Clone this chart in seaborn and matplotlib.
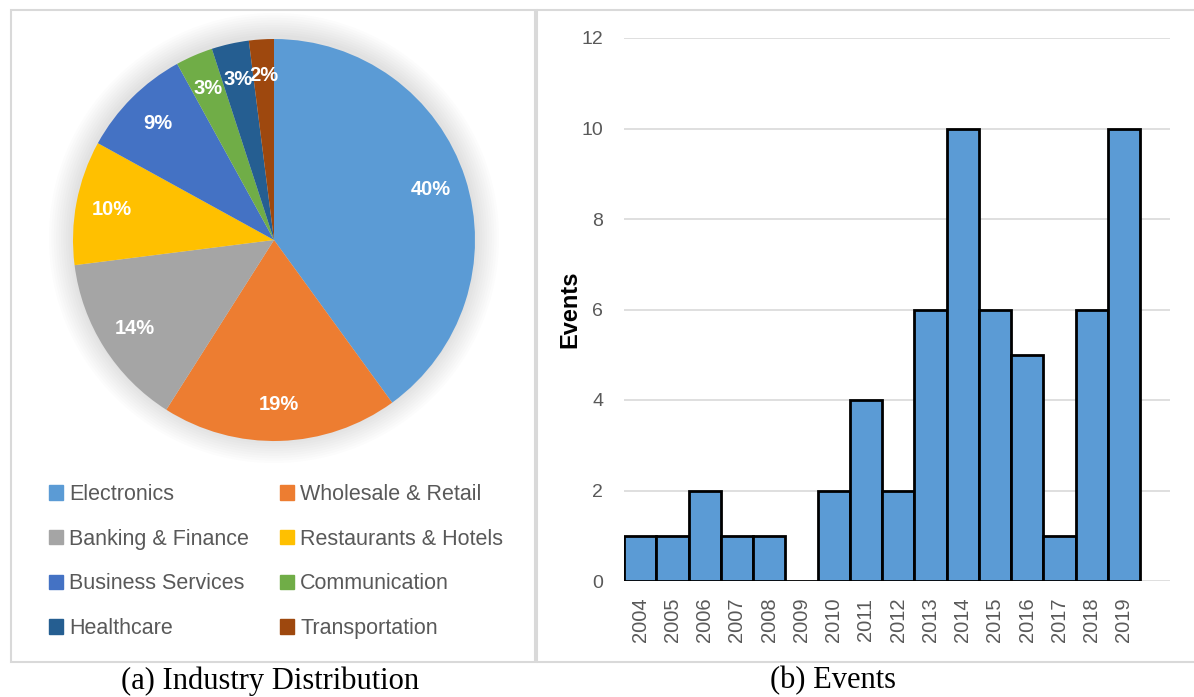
import matplotlib
matplotlib.use("Agg")
import matplotlib.pyplot as plt
import matplotlib.patches as mpatches
import seaborn as sns
import pandas as pd

# ---------------------------------------------------------------------------
# Data
# ---------------------------------------------------------------------------
industries = ["Electronics", "Wholesale & Retail", "Banking & Finance",
              "Restaurants & Hotels", "Business Services", "Communication",
              "Healthcare", "Transportation"]
industry_share = [40, 19, 14, 10, 9, 3, 3, 2]
industry_colors = ["#5B9BD5", "#ED7D31", "#A5A5A5", "#FFC000",
                   "#4472C4", "#70AD47", "#255E91", "#9E480E"]

years = [str(y) for y in range(2004, 2020)]
events = [1, 1, 2, 1, 1, 0, 2, 4, 2, 6, 10, 6, 5, 1, 6, 10]

BAR_BLUE = "#5B9BD5"
GREY_TXT = "#595959"
FRAME = "#D9D9D9"

W, H = 1194, 697
sns.set_theme(style="white")
plt.rcParams["font.family"] = ["Liberation Sans", "DejaVu Sans"]

fig = plt.figure(figsize=(W / 100, H / 100), dpi=100)


def px_box(x0, y0, x1, y1):
    """pixel box (top-left origin) -> figure fraction rect"""
    return [x0 / W, (H - y1) / H, (x1 - x0) / W, (y1 - y0) / H]


# panel frames
fig.add_artist(mpatches.Rectangle((11 / W, (H - 662) / H), 524 / W, 652 / H,
                                  transform=fig.transFigure, fill=False,
                                  edgecolor=FRAME, lw=1.5))
fig.add_artist(plt.Line2D([537 / W, 1], [(H - 10) / H] * 2,
                          transform=fig.transFigure, color=FRAME, lw=1.5))
fig.add_artist(plt.Line2D([537 / W, 1], [(H - 662) / H] * 2,
                          transform=fig.transFigure, color=FRAME, lw=1.5))
fig.add_artist(plt.Line2D([537 / W] * 2, [(H - 662) / H, (H - 10) / H],
                          transform=fig.transFigure, color=FRAME, lw=1.5))

# ---------------------------------------------------------------------------
# (a) pie
# ---------------------------------------------------------------------------
cx, cy, r = 274, 240, 201
m = 1.25
ax1 = fig.add_axes(px_box(cx - r * m, cy - r * m, cx + r * m, cy + r * m))
# soft shadow
for k in range(10):
    ax1.add_patch(mpatches.Circle((0, 0.01), 1.0 + 0.012 * (10 - k),
                                  color="black", alpha=0.01, lw=0, zorder=0))
wedges, _, autotexts = ax1.pie(industry_share, colors=industry_colors,
                               startangle=90, counterclock=False,
                               autopct="%d%%", pctdistance=0.82,
                               wedgeprops=dict(linewidth=0),
                               textprops=dict(color="white", fontsize=14.5,
                                              fontweight="bold"))
ax1.set_xlim(-m, m)
ax1.set_ylim(-m, m)
ax1.set_aspect("equal")
ax1.axis("off")

# legend filled row by row like the original (two columns)
order = [0, 2, 4, 6, 1, 3, 5, 7]
handles = [mpatches.Patch(color=industry_colors[i], label=industries[i])
           for i in order]
leg = fig.legend(handles=handles, ncol=2, loc="upper left",
                 bbox_to_anchor=(49 / W, (H - 484) / H), frameon=False,
                 borderaxespad=0, borderpad=0,
                 fontsize=15.5, labelcolor=GREY_TXT, handlelength=0.65,
                 handleheight=0.65, handletextpad=0.28, labelspacing=1.1,
                 columnspacing=1.45)

fig.text(270 / W, (H - 681) / H, "(a) Industry Distribution", ha="center",
         va="center", fontsize=22, family="Liberation Serif", color="black")

# ---------------------------------------------------------------------------
# (b) events bar chart
# ---------------------------------------------------------------------------
df = pd.DataFrame({"year": years, "events": events})
ax2 = fig.add_axes(px_box(624, 38, 1170, 581))
sns.barplot(data=df, x="year", y="events", color=BAR_BLUE, width=1.0,
            edgecolor="black", linewidth=2, saturation=1, ax=ax2, zorder=3)
ax2.set_xlim(-0.5, 16.43)
ax2.set_ylim(0, 12)
ax2.set_yticks(range(0, 13, 2))
ax2.yaxis.grid(True, color=FRAME, lw=1.2, zorder=0)
ax2.set_axisbelow(True)
for s in ax2.spines.values():
    s.set_visible(False)
ax2.tick_params(axis="x", rotation=90, labelsize=14.5, labelcolor=GREY_TXT,
                length=0, pad=12)
ax2.tick_params(axis="y", labelsize=14, labelcolor=GREY_TXT, length=0,
                pad=15)
ax2.set_xlabel("")
ax2.set_ylabel("Events", fontsize=17, fontweight="bold", color="black",
               labelpad=0)

fig.text(833 / W, (H - 681) / H, "(b) Events", ha="center", va="center",
         fontsize=22, family="Liberation Serif", color="black")

fig.savefig("out.png", dpi=100)
